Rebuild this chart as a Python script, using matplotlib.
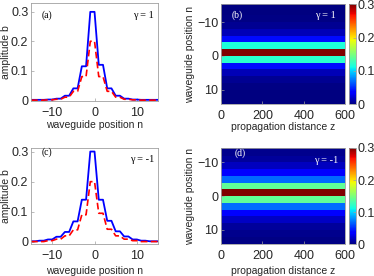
import matplotlib
matplotlib.use('Agg')
import matplotlib.pyplot as plt
import numpy as np

plt.rcParams['font.family'] = ['Liberation Sans Narrow', 'Liberation Sans', 'DejaVu Sans']

# waveguide sites
n = np.arange(-15, 16)

# gamma = 1
blue_a = [0.001, 0.001, 0.001, 0.001, 0.002, 0.002, 0.005, 0.005, 0.015, 0.015,
          0.04, 0.04, 0.115, 0.115, 0.30, 0.30, 0.12, 0.12, 0.04, 0.04,
          0.015, 0.015, 0.005, 0.005, 0.002, 0.002, 0.001, 0.001, 0.001, 0.001, 0.001]
red_a = [0.0, 0.0, 0.0, 0.0, 0.001, 0.001, 0.003, 0.003, 0.01, 0.01,
         0.03, 0.03, 0.08, 0.08, 0.20, 0.20, 0.08, 0.08, 0.03, 0.03,
         0.01, 0.01, 0.003, 0.003, 0.001, 0.001, 0.0, 0.0, 0.0, 0.0, 0.0]

# gamma = -1
blue_c = [0.002, 0.002, 0.004, 0.004, 0.008, 0.008, 0.017, 0.017, 0.033, 0.033,
          0.068, 0.068, 0.14, 0.14, 0.30, 0.30, 0.14, 0.14, 0.07, 0.07,
          0.035, 0.035, 0.018, 0.018, 0.008, 0.008, 0.004, 0.004, 0.002, 0.002, 0.002]
red_c = [0.001, 0.001, 0.001, 0.001, 0.004, 0.004, 0.009, 0.009, 0.02, 0.02,
         0.04, 0.04, 0.09, 0.09, 0.20, 0.20, 0.095, 0.095, 0.042, 0.042,
         0.02, 0.02, 0.009, 0.009, 0.004, 0.004, 0.001, 0.001, 0.001, 0.001, 0.001]

z_edges = [0, 600]
amp_ticks = [0, 0.1, 0.2, 0.3]
amp_labels = ['0', '0.1', '0.2', '0.3']
n_ticks = [-10, 0, 10]
z_ticks = [0, 200, 400, 600]

tick_col = '#262626'
spine_col = '#a0a0a0'
serif = 'Liberation Serif'

fig = plt.figure(figsize=(3.74, 2.76), dpi=100)


def style(ax):
    for s in ax.spines.values():
        s.set_color(spine_col)
        s.set_linewidth(0.6)
    ax.tick_params(direction='in', length=2, width=0.5, color=spine_col,
                   labelsize=9, labelcolor=tick_col, pad=2)


def line_panel(rect, blue, red, ylim, tag, gam, tag_y, gam_y):
    ax = fig.add_axes(rect)
    ax.plot(n, blue, color='#0000ff', lw=1.3)
    ax.plot(n, red, color='#ff0000', lw=1.2, ls=(0, (4, 2)))
    ax.set_xlim(-15, 15)
    ax.set_ylim(*ylim)
    ax.set_xticks(n_ticks)
    ax.set_yticks(amp_ticks)
    ax.set_yticklabels(amp_labels)
    style(ax)
    ax.tick_params(axis='x', pad=4)
    ax.set_xlabel('waveguide position n', fontsize=7.5, color=tick_col)
    ax.set_ylabel('amplitude b', fontsize=7.5, color=tick_col)
    ax.xaxis.label.set_va('center')
    ax.yaxis.label.set_va('center')
    ax.text(0.084, tag_y, tag, transform=ax.transAxes, fontsize=7,
            family=serif, va='center', ha='left')
    ax.text(0.97, gam_y, gam, transform=ax.transAxes, fontsize=7.5,
            family=serif, va='center', ha='right')
    return ax


def map_panel(rect, crect, blue, ylim, tag, gam, tag_xy, gam_xy):
    ax = fig.add_axes(rect)
    vals = np.array(blue)[:, None]
    mesh = ax.pcolormesh(z_edges, np.append(n - 1, n[-1]), vals,
                         cmap='jet', vmin=0, vmax=0.3, shading='flat')
    ax.set_xlim(0, 600)
    ax.set_ylim(*ylim)
    ax.set_xticks(z_ticks)
    ax.set_yticks(n_ticks)
    style(ax)
    ax.tick_params(axis='x', pad=4)
    ax.set_xlabel('propagation distance z', fontsize=7.5, color=tick_col)
    ax.set_ylabel('waveguide position n', fontsize=7.5, color=tick_col)
    ax.xaxis.label.set_va('center')
    ax.yaxis.label.set_va('center')
    ax.text(*tag_xy, tag, transform=ax.transAxes, fontsize=7, color='white',
            family=serif, va='center', ha='left')
    ax.text(*gam_xy, gam, transform=ax.transAxes, fontsize=7.5, color='white',
            family=serif, va='center', ha='right')
    cax = fig.add_axes(crect)
    cb = fig.colorbar(mesh, cax=cax)
    cb.set_ticks(amp_ticks)
    cb.set_ticklabels(amp_labels)
    cb.outline.set_edgecolor(spine_col)
    cb.outline.set_linewidth(0.6)
    cax.tick_params(direction='in', length=2, width=0.5, color=spine_col,
                    labelsize=9, labelcolor=tick_col, pad=1)
    return ax


ax_a = line_panel([0.083, 0.634, 0.3395, 0.355], blue_a, red_a, (-0.003, 0.33),
                  '(a)', 'γ = 1', 0.875, 0.87)
ax_a.xaxis.set_label_coords(0.5, -0.245)
ax_a.yaxis.set_label_coords(-0.197, 0.5)

ax_c = line_panel([0.083, 0.116, 0.3395, 0.348], blue_c, red_c, (-0.007, 0.312),
                  '(c)', 'γ = -1', 0.955, 0.88)
ax_c.xaxis.set_label_coords(0.5, -0.281)
ax_c.yaxis.set_label_coords(-0.197, 0.5)

ax_b = map_panel([0.591, 0.622, 0.332, 0.363], [0.933, 0.622, 0.018, 0.363],
                 blue_a, (14.3, -15.3), '(b)', 'γ = 1', (0.086, 0.89), (0.926, 0.89))
ax_b.xaxis.set_label_coords(0.5, -0.226)
ax_b.yaxis.set_label_coords(-0.248, 0.5)

ax_d = map_panel([0.591, 0.115, 0.332, 0.349], [0.933, 0.115, 0.018, 0.349],
                 blue_c, (14.3, -14.3), '(d)', 'γ = -1', (0.106, 0.95), (0.944, 0.87))
ax_d.xaxis.set_label_coords(0.5, -0.277)
ax_d.yaxis.set_label_coords(-0.248, 0.5)

fig.savefig('out.png', dpi=100)
